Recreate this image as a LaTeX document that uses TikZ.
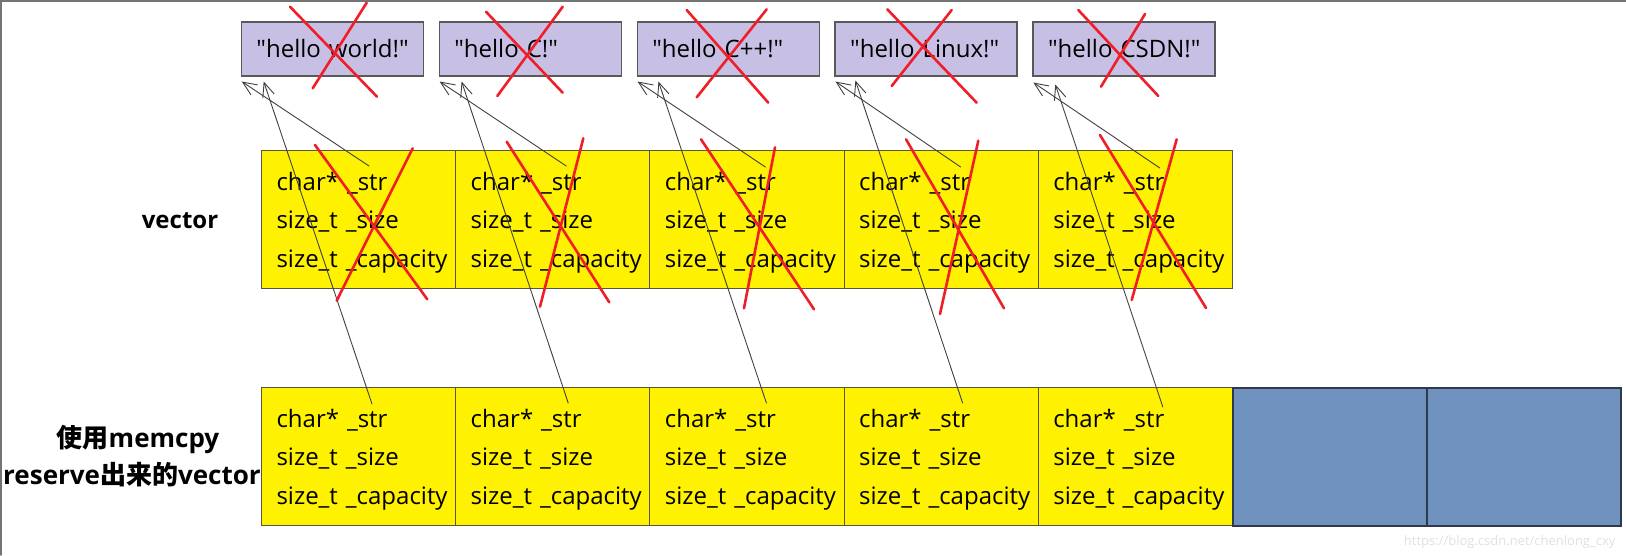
\documentclass[tikz,border=0pt]{standalone}
\usepackage{fontspec}
\setmainfont{Open Sans}[Ligatures=TeXOff]
\newfontfamily\cjk{Noto Sans CJK SC Bold}
\usepackage{tikz}
\usetikzlibrary{arrows.meta,positioning}
\usepackage{xcolor}
\definecolor{strpurple}{RGB}{200,192,228}
\definecolor{cellyellow}{RGB}{255,242,0}
\definecolor{spareblue}{RGB}{112,146,190}
\definecolor{crossred}{RGB}{240,30,40}
\hyphenpenalty=10000
\exhyphenpenalty=10000

\begin{document}
\begin{tikzpicture}[x=1pt,y=-1pt,>={Straight Barb[length=14pt,width=12pt]},font=\fontsize{24}{38.5}\selectfont,line cap=round,
  strbox/.style={draw=black!65,line width=1.5pt,fill=strpurple,anchor=north west,minimum width=182pt,minimum height=54pt,text width=152pt,inner xsep=15pt,inner ysep=0pt,align=left},
  cell/.style={draw=black!75!yellow,line width=1pt,fill=cellyellow,anchor=north west,minimum width=194.2pt,minimum height=138pt,text width=164.2pt,inner xsep=15pt,align=left,execute at begin node={\rule{0pt}{24pt}}},
  spare/.style={draw=black!60!spareblue,line width=1.5pt,fill=spareblue,anchor=north west,minimum width=194.2pt,minimum height=138pt},
  ptr/.style={->,black!75,line width=0.9pt},
  cross/.style={crossred,line width=2.6pt}]
\useasboundingbox (0,0) rectangle (1626,555);
\draw[black!55,line width=1.5pt] (0,0.75) -- (1626,0.75);
\draw[black!55,line width=1.5pt] (0.75,0) -- (0.75,555);
% strings on the heap
\node[strbox] (s0) at (240.7,21) {"hello~world!"};
\node[strbox] (s1) at (438.6,21) {"hello~C!"};
\node[strbox] (s2) at (636.5,21) {"hello~C++!"};
\node[strbox] (s3) at (834.4,21) {"hello~Linux!"};
\node[strbox] (s4) at (1032.3,21) {"hello~CSDN!"};
% old vector
\node[font=\fontsize{24}{28}\selectfont\bfseries] (vec) at (180,221) {vector};
\node[cell] (v0) at (261,150) {char*~\_str\\size\_t~\_size\\size\_t~\_capacity};
\node[cell] (v1) at (455.2,150) {char*~\_str\\size\_t~\_size\\size\_t~\_capacity};
\node[cell] (v2) at (649.4,150) {char*~\_str\\size\_t~\_size\\size\_t~\_capacity};
\node[cell] (v3) at (843.6,150) {char*~\_str\\size\_t~\_size\\size\_t~\_capacity};
\node[cell] (v4) at (1037.8,150) {char*~\_str\\size\_t~\_size\\size\_t~\_capacity};
% vector after reserve
\node[align=center,font=\fontsize{26}{37}\selectfont\bfseries] (memlbl) at (132,456) {\hspace*{12pt}{\cjk 使用}memcpy\\reserve{\cjk 出来的}vector};
\node[cell] (m0) at (261,387) {char*~\_str\\size\_t~\_size\\size\_t~\_capacity};
\node[cell] (m1) at (455.2,387) {char*~\_str\\size\_t~\_size\\size\_t~\_capacity};
\node[cell] (m2) at (649.4,387) {char*~\_str\\size\_t~\_size\\size\_t~\_capacity};
\node[cell] (m3) at (843.6,387) {char*~\_str\\size\_t~\_size\\size\_t~\_capacity};
\node[cell] (m4) at (1037.8,387) {char*~\_str\\size\_t~\_size\\size\_t~\_capacity};
\node[spare] (b5) at (1232,387) {};
\node[spare] (b6) at (1426.2,387) {};
% pointers
\draw[ptr] ([xshift=108pt,yshift=-16pt]v0.north west) -- ([xshift=1pt,yshift=-5pt]s0.south west);
\draw[ptr] ([xshift=111pt,yshift=-16pt]v1.north west) -- ([xshift=1pt,yshift=-5pt]s1.south west);
\draw[ptr] ([xshift=116pt,yshift=-17pt]v2.north west) -- ([xshift=1pt,yshift=-5pt]s2.south west);
\draw[ptr] ([xshift=117pt,yshift=-17pt]v3.north west) -- ([xshift=1pt,yshift=-5pt]s3.south west);
\draw[ptr] ([xshift=122pt,yshift=-18pt]v4.north west) -- ([xshift=1pt,yshift=-6pt]s4.south west);
\draw[ptr] ([xshift=111pt,yshift=-17pt]m0.north west) -- ([xshift=23pt,yshift=-5pt]s0.south west);
\draw[ptr] ([xshift=113pt,yshift=-16pt]m1.north west) -- ([xshift=23pt,yshift=-5pt]s1.south west);
\draw[ptr] ([xshift=117pt,yshift=-16pt]m2.north west) -- ([xshift=22pt,yshift=-5pt]s2.south west);
\draw[ptr] ([xshift=119pt,yshift=-16pt]m3.north west) -- ([xshift=21pt,yshift=-4pt]s3.south west);
\draw[ptr] ([xshift=125pt,yshift=-20pt]m4.north west) -- ([xshift=23pt,yshift=-8pt]s4.south west);
% crossed out
\draw[cross] (290,6.7) -- (377,96.7) (366.7,2.7) -- (312.7,88.3);
\draw[cross] (486,11.7) -- (562.7,92.7) (562.7,6.7) -- (497.3,96);
\draw[cross] (686.7,10) -- (768.3,102.7) (766.7,9.3) -- (696.7,97.3);
\draw[cross] (887.3,9.3) -- (976.7,102.7) (951.7,10) -- (891.7,86);
\draw[cross] (1078.3,10) -- (1158.3,96) (1145,14) -- (1101,86.7);
\draw[cross] (315,145) -- (427.3,299.3) (412.7,148.3) -- (336.7,300.7);
\draw[cross] (506.7,141.7) -- (609.3,302.3) (583.3,138.3) -- (540,306.7);
\draw[cross] (701,139.3) -- (814,309.3) (775,147.3) -- (744,308.3);
\draw[cross] (906,139.3) -- (1004,308.3) (978.3,140.7) -- (940,314);
\draw[cross] (1100,135) -- (1206,308) (1176.7,139.3) -- (1131.7,300);
\node[anchor=east,text=black!12,font=\fontsize{13}{15}\selectfont] (mark) at (1619,542) {https://blog.csdn.net/chenlong\_cxy};
\end{tikzpicture}
\end{document}
